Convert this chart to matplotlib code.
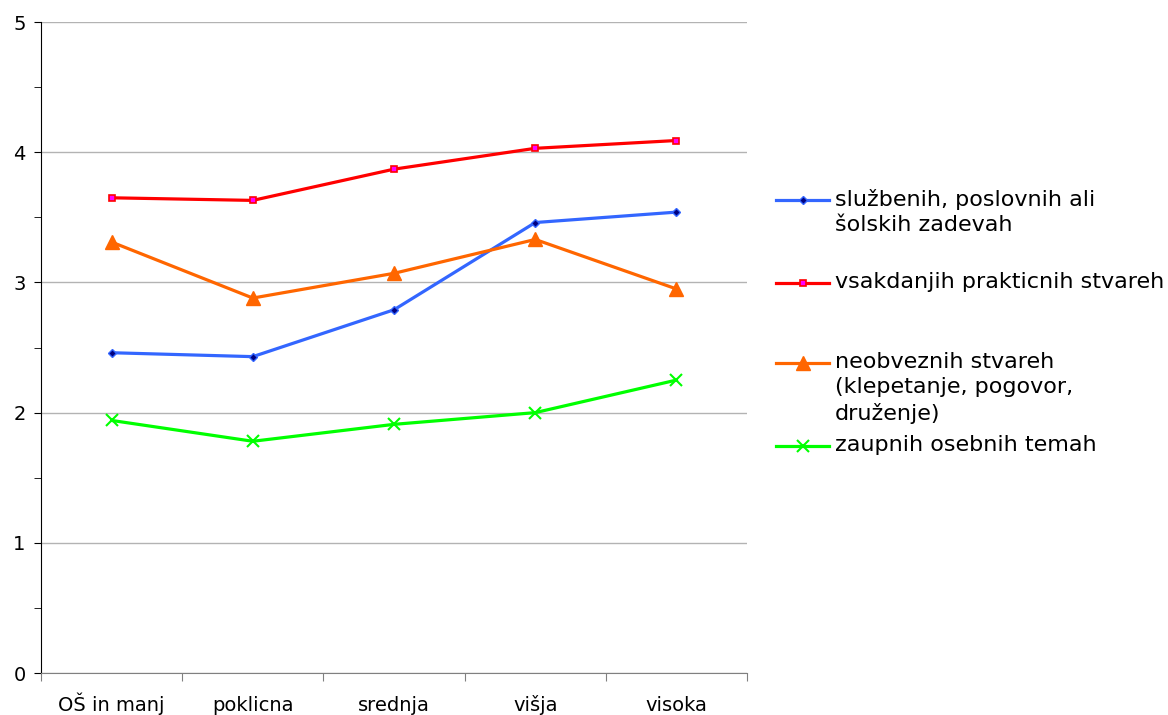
import numpy as np
import matplotlib.pyplot as plt
from matplotlib.lines import Line2D

plt.rcParams['font.family'] = ['DejaVu Sans']

categories = ['OŠ in manj', 'poklicna', 'srednja', 'višja', 'visoka']
sluzbenih = [2.46, 2.43, 2.79, 3.46, 3.54]
vsakdanjih = [3.65, 3.63, 3.87, 4.03, 4.09]
neobveznih = [3.31, 2.88, 3.07, 3.33, 2.95]
zaupnih = [1.94, 1.78, 1.91, 2.00, 2.25]

labels = ['službenih, poslovnih ali\nšolskih zadevah',
          'vsakdanjih prakticnih stvareh',
          'neobveznih stvareh\n(klepetanje, pogovor,\ndruženje)',
          'zaupnih osebnih temah']

styles = [
    dict(color='#3366ff', marker='D', markersize=4, markerfacecolor='#000080', markeredgecolor='#3366ff', markeredgewidth=1),
    dict(color='#ff0000', marker='s', markersize=5, markerfacecolor='#ff00ff', markeredgecolor='#ff0000', markeredgewidth=1.2),
    dict(color='#ff6600', marker='^', markersize=10, markerfacecolor='#ff6600', markeredgecolor='#ff6600'),
    dict(color='#00ff00', marker='x', markersize=9, markeredgewidth=1.5, markeredgecolor='#00ff00'),
]
series = [sluzbenih, vsakdanjih, neobveznih, zaupnih]

fig = plt.figure(figsize=(11.68, 7.15), dpi=100)
ax = fig.add_axes([0.0351, 0.0587, 0.6045, 0.9105])

x = np.arange(len(categories))
for vals, st in zip(series, styles):
    ax.plot(x, vals, linewidth=2.3, **st)

ax.set_xlim(-0.5, len(categories) - 0.5)
ax.set_ylim(0, 5)
ax.set_yticks(range(6))
ax.set_yticks(np.arange(0.5, 5, 1.0), minor=True)
ax.yaxis.grid(True, which='major', color='#b3b3b3', linewidth=1)
ax.set_axisbelow(True)
ax.set_xticks(np.arange(-0.5, len(categories), 1.0))
ax.set_xticklabels([])
ax.set_xticks(x, minor=True)
ax.set_xticklabels(categories, minor=True, fontsize=14)
for t in ax.get_xticklabels(minor=True):
    t.set_va('baseline')
ax.tick_params(axis='x', which='minor', length=0, pad=27)
ax.tick_params(axis='x', which='major', length=6, color='#808080')
ax.tick_params(axis='y', which='both', length=5, color='black', labelsize=14, pad=6)
for s in ['top', 'right']:
    ax.spines[s].set_visible(False)
ax.spines['left'].set_color('black')
ax.spines['bottom'].set_color('#808080')

# legend drawn by hand to follow the original spacing
ys = [200, 283, 363, 446]
for yy, lab, st in zip(ys, labels, styles):
    yf = 1 - yy / 715
    ln = Line2D([776 / 1168, 829 / 1168], [yf, yf], transform=fig.transFigure,
                linewidth=2.3, **{k: v for k, v in st.items() if k != 'marker'})
    fig.add_artist(ln)
    mk = Line2D([802.5 / 1168], [yf], transform=fig.transFigure, linestyle='none', **st)
    fig.add_artist(mk)
    fig.text(835 / 1168, yf + 11 / 715, lab, fontsize=16, va='top', ha='left',
             linespacing=1.33, transform=fig.transFigure)

fig.savefig('out.png')
